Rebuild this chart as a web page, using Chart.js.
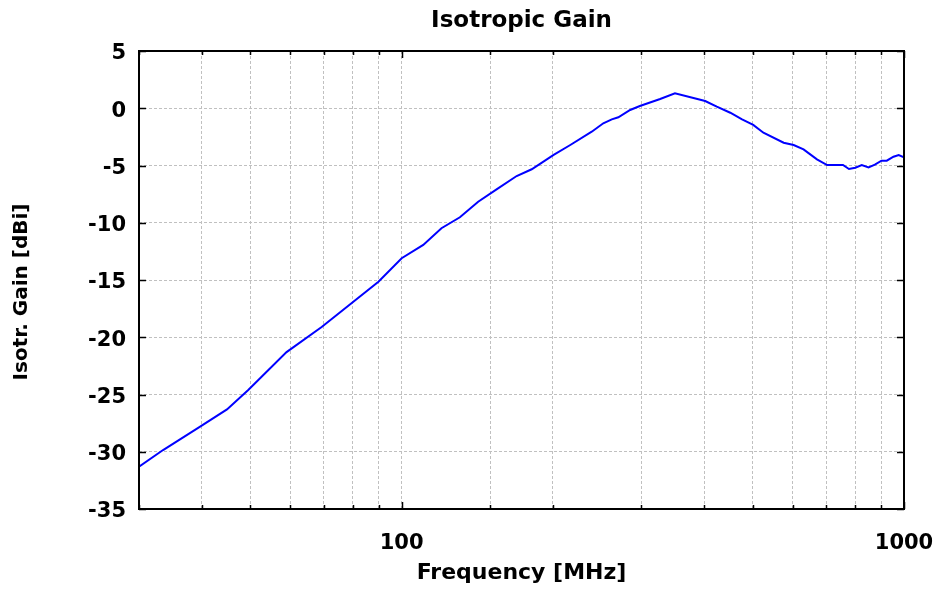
<!DOCTYPE html>
<html><head><meta charset="utf-8">
<script src="https://cdn.jsdelivr.net/npm/chart.js@4/dist/chart.umd.min.js"></script>
<style>html,body{margin:0;padding:0;background:#fff}#wrap{width:940px;height:592px}</style>
</head><body><div id="wrap"><canvas id="c" width="940" height="592"></canvas></div>
<script>
const chartTitle = 'Isotropic Gain';
const xAxisTitle = 'Frequency [MHz]';
const yAxisTitle = 'Isotr. Gain [dBi]';
const frequencies = [30, 33.5, 39.7, 44.9, 49.5, 59, 69.3, 89.9, 100, 110.4, 120, 130.6, 142, 154.5, 169.4, 181.5, 200.7, 216.6, 239, 252, 262, 270, 285, 298, 327, 350, 402, 424, 451, 476, 501, 525, 576, 603, 631, 671, 703, 756, 777, 800, 824, 850, 875, 902, 924, 953, 976, 1000];
const gains = [-31.3, -29.85, -27.8, -26.3, -24.6, -21.3, -19.1, -15.15, -13.1, -11.94, -10.48, -9.52, -8.16, -7.08, -5.92, -5.33, -4.08, -3.21, -2.05, -1.31, -0.97, -0.79, -0.15, 0.2, 0.81, 1.31, 0.63, 0.14, -0.39, -0.97, -1.46, -2.14, -3.01, -3.21, -3.59, -4.46, -4.96, -4.96, -5.31, -5.19, -4.96, -5.16, -4.93, -4.58, -4.58, -4.23, -4.08, -4.28];
const xLabeledTicks = [100, 1000];
const xMin = 30, xMax = 1000;
const yMin = -35, yMax = 5, yStep = 5;

const FONT = 'DejaVu Sans';
Chart.defaults.font.family = FONT;
Chart.defaults.color = '#000';

const boxPlugin = {
  id: 'box',
  afterDatasetsDraw(chart) {
    const {ctx, chartArea: a, scales} = chart;
    ctx.save();
    ctx.strokeStyle = '#000';
    ctx.lineWidth = 1.5;
    ctx.setLineDash([]);
    ctx.beginPath();
    scales.y.ticks.forEach(t => {
      const p = Math.round(scales.y.getPixelForValue(t.value)) + 0.5;
      ctx.moveTo(a.left, p); ctx.lineTo(a.left + 7, p);
      ctx.moveTo(a.right, p); ctx.lineTo(a.right - 7, p);
    });
    scales.x.ticks.forEach(t => {
      const p = Math.round(scales.x.getPixelForValue(t.value)) + 0.5;
      const len = xLabeledTicks.includes(t.value) ? 7 : 4;
      ctx.moveTo(p, a.bottom); ctx.lineTo(p, a.bottom - len);
      ctx.moveTo(p, a.top); ctx.lineTo(p, a.top + len);
    });
    ctx.stroke();
    ctx.lineWidth = 2;
    ctx.strokeRect(a.left, a.top, a.right - a.left, a.bottom - a.top);
    // y axis title, centred on the canvas height like the reference
    ctx.fillStyle = '#000';
    ctx.font = 'bold 20px "' + FONT + '"';
    ctx.textAlign = 'center';
    ctx.textBaseline = 'middle';
    ctx.translate(22, 292);
    ctx.rotate(-Math.PI / 2);
    ctx.fillText(yAxisTitle, 0, 0);
    ctx.restore();
  }
};

new Chart(document.getElementById('c'), {
  type: 'line',
  data: {
    datasets: [{
      data: frequencies.map((f, i) => ({x: f, y: gains[i]})),
      borderColor: '#0000ff',
      borderWidth: 2,
      pointRadius: 0,
      tension: 0,
      fill: false
    }]
  },
  options: {
    responsive: false,
    animation: false,
    devicePixelRatio: 1,
    layout: {padding: {left: 0, right: 36, top: 0, bottom: 0}},
    plugins: {
      legend: {display: false},
      tooltip: {enabled: false},
      title: {
        display: true,
        fullSize: false,
        text: chartTitle,
        color: '#000',
        font: {family: FONT, size: 23, weight: 'bold', lineHeight: 1.2},
        padding: {top: 7, bottom: 16.4}
      }
    },
    scales: {
      x: {
        type: 'logarithmic',
        min: xMin, max: xMax,
        afterFit(s) { s.height = 83; s.paddingLeft = 0; s.paddingRight = 0; },
        grid: {color: '#c0c0c0', lineWidth: 1, drawTicks: false},
        border: {display: false, dash: [3, 2]},
        ticks: {
          padding: 22,
          autoSkip: false,
          maxRotation: 0,
          font: {family: FONT, size: 21, weight: 'bold'},
          color: '#000',
          callback: (v) => xLabeledTicks.includes(v) ? String(v) : ''
        },
        title: {
          display: true, text: xAxisTitle, color: '#000',
          font: {family: FONT, size: 22, weight: 'bold', lineHeight: 1.2},
          padding: {top: 0, bottom: 6}
        }
      },
      y: {
        min: yMin, max: yMax,
        afterFit(s) { s.width = 139; s.paddingTop = 0; s.paddingBottom = 0; },
        grid: {color: '#c0c0c0', lineWidth: 1, drawTicks: false},
        border: {display: false, dash: [3, 2]},
        ticks: {
          stepSize: yStep,
          padding: 13,
          labelOffset: 3,
          font: {family: FONT, size: 21, weight: 'bold'},
          color: '#000'
        },
        title: {display: false, text: yAxisTitle}
      }
    }
  },
  plugins: [boxPlugin]
});
</script>
</body></html>
